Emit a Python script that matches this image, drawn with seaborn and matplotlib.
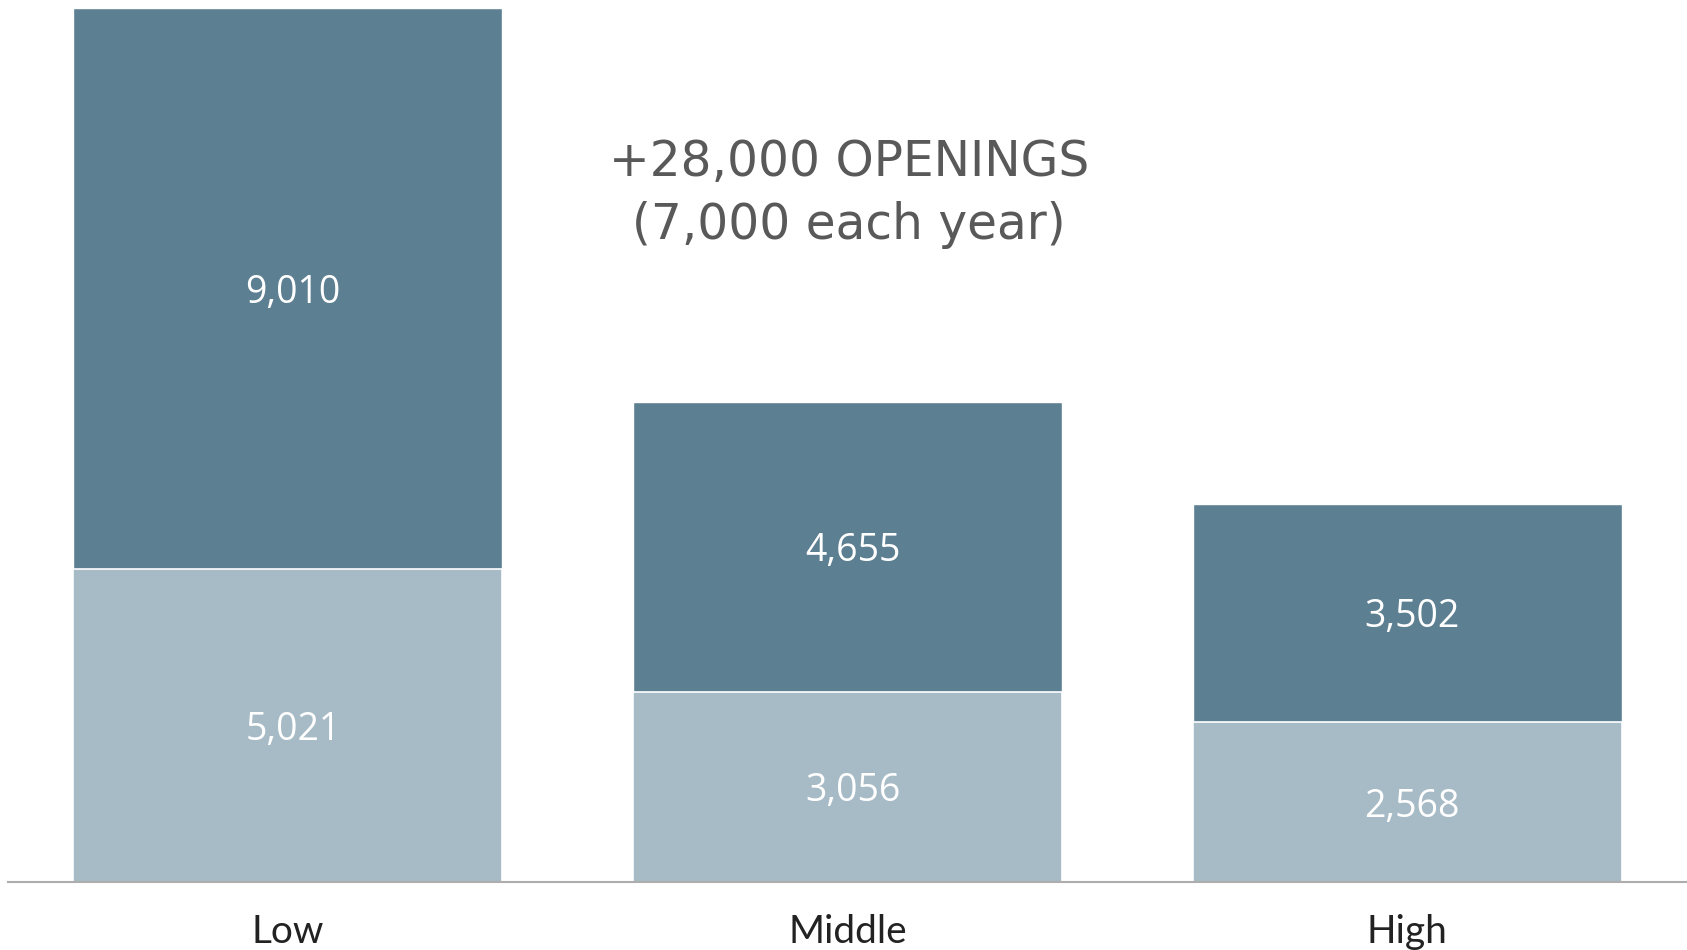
import pandas as pd
import numpy as np
import seaborn as sns
import matplotlib.pyplot as plt

categories = ['Low', 'Middle', 'High']
lower = [5021, 3056, 2568]
upper = [9010, 4655, 3502]

dark = '#5D7F92'
light = '#A7BBC6'

df = pd.DataFrame({'level': categories, 'lower': lower, 'upper': upper})
df['total'] = df['lower'] + df['upper']

sns.set_theme(style='white')
plt.rcParams['font.family'] = ['Open Sans', 'DejaVu Sans']

fig = plt.figure(figsize=(16.87, 9.5), dpi=100)
ax = fig.add_axes([8 / 1687, 68 / 950, 1679 / 1687, 882 / 950])

sns.barplot(data=df, x='level', y='total', color=dark, saturation=1,
            width=0.766, edgecolor='white', linewidth=1, ax=ax)
sns.barplot(data=df, x='level', y='lower', color=light, saturation=1,
            width=0.766, edgecolor='white', linewidth=1.2, ax=ax)

# segment labels (a touch right of centre, like the original)
for i, row in df.iterrows():
    ax.text(i + 0.009, row['lower'] / 2, f"{row['lower']:,}", ha='center', va='center_baseline',
            color='white', fontsize=27, family=['Open Sans', 'DejaVu Sans'])
    ax.text(i + 0.009, row['lower'] + row['upper'] / 2, f"{row['upper']:,}", ha='center',
            va='center_baseline', color='white', fontsize=27,
            family=['Open Sans', 'DejaVu Sans'])

ax.text(1.003, 11050, '+28,000 OPENINGS\n(7,000 each year)', ha='center', va='center',
        color='#595959', fontsize=35, linespacing=1.4,
        family=['DejaVu Sans'])

ax.set_xlim(-0.5, 2.5)
ax.set_ylim(0, 14160)
ax.set_xlabel('')
ax.set_ylabel('')
ax.set_yticks([])
sns.despine(ax=ax, left=True, top=True, right=True)
ax.spines['bottom'].set_color('#ADADAD')
ax.spines['bottom'].set_linewidth(1.5)
ax.tick_params(axis='x', length=0, pad=23, colors='#222222')
for lab in ax.get_xticklabels():
    lab.set_fontsize(28)
    lab.set_family(['Lato', 'DejaVu Sans'])
    lab.set_fontweight('normal')
    lab.set_color('#222222')

fig.savefig('out.png', dpi=100)
